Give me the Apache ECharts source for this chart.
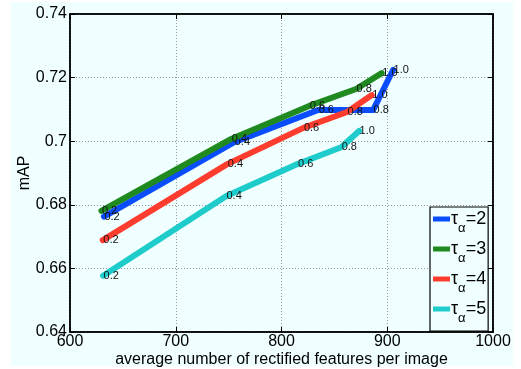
<!DOCTYPE html>
<html>
<head>
<meta charset="utf-8">
<script src="https://cdn.jsdelivr.net/npm/echarts@6/dist/echarts.min.js"></script>
<style>
  html, body { margin: 0; padding: 0; background: #ffffff; }
  #chart { width: 521px; height: 369px; }
</style>
</head>
<body>
<div id="chart"></div>
<script>
// Labels written next to each point (the alpha threshold)
const pointLabels = ['0.2', '0.4', '0.6', '0.8', '1.0'];

// tau_alpha = 2
const feat2 = [632.1, 755.3, 834.7, 886.6, 905.5];
const map2  = [0.6763, 0.6997, 0.7098, 0.7098, 0.7224];
// tau_alpha = 3
const feat3 = [629.7, 752.5, 826.2, 870.5, 894.8];
const map3  = [0.6781, 0.7007, 0.7111, 0.7164, 0.7214];
// tau_alpha = 4
const feat4 = [631.0, 748.7, 820.7, 862.0, 885.4];
const map4  = [0.6689, 0.6928, 0.7042, 0.7092, 0.7145];
// tau_alpha = 5
const feat5 = [631.3, 747.5, 815.1, 856.4, 873.4];
const map5  = [0.6577, 0.6827, 0.6928, 0.6981, 0.7032];

const tauValues = ['2', '3', '4', '5'];
const xTicks = [600, 700, 800, 900, 1000];
const yTicks = [0.64, 0.66, 0.68, 0.70, 0.72, 0.74];

const seriesColors = ['#0a4dff', '#1f8a1f', '#ff3d2e', '#1fcccc'];
const featSets = [feat2, feat3, feat4, feat5];
const mapSets = [map2, map3, map4, map5];

const FONT = 'Liberation Sans, Arial, Helvetica, sans-serif';

const series = tauValues.map((tau, i) => ({
  name: 'tau' + tau,
  type: 'line',
  data: featSets[i].map((x, k) => [x, mapSets[i][k]]),
  symbol: 'circle',
  symbolSize: 1,
  showSymbol: true,
  lineStyle: { width: 6, color: seriesColors[i], cap: 'round', join: 'round' },
  itemStyle: { color: seriesColors[i] },
  label: {
    show: true,
    position: 'right',
    distance: 0,
    formatter: p => pointLabels[p.dataIndex],
    fontFamily: FONT,
    fontSize: 11,
    color: '#111'
  },
  emphasis: { disabled: true },
  animation: false,
  z: 2 + i
}));

const chart = echarts.init(document.getElementById('chart'), null, { renderer: 'canvas' });

chart.setOption({
  animation: false,
  textStyle: { fontFamily: FONT },
  graphic: [{
    type: 'rect',
    shape: { x: 11, y: 2, width: 502, height: 364 },
    style: { fill: '#f0ffff' },
    z: -10,
    silent: true
  }],
  grid: {
    left: 70, right: 28, top: 14, bottom: 37,
    outerBoundsMode: 'none',
    containLabel: false,
    show: true,
    borderColor: '#000',
    borderWidth: 1.5,
    backgroundColor: 'transparent'
  },
  legend: {
    data: tauValues.map(t => 'tau' + t),
    orient: 'vertical',
    left: 430,
    top: 207,
    width: 61,
    padding: [3, 2, 6, 3],
    itemGap: 5,
    itemWidth: 17,
    itemHeight: 5,
    icon: 'rect',
    backgroundColor: '#f0ffff',
    borderColor: '#000',
    borderWidth: 1.2,
    borderRadius: 0,
    selectedMode: false,
    formatter: name => '{t|τ}{s|α}{t|=' + name.slice(3) + '}',
    textStyle: {
      padding: [0, 0, 0, -4],
      rich: {
        t: { fontSize: 18, lineHeight: 18, verticalAlign: 'top', color: '#000', fontFamily: FONT },
        s: { fontSize: 13, lineHeight: 13, padding: [12, 0, 0, 0], verticalAlign: 'top', color: '#000', fontFamily: FONT }
      }
    }
  },
  xAxis: [{
    type: 'value',
    min: xTicks[0], max: xTicks[xTicks.length - 1], interval: 100,
    name: 'average number of rectified features per image',
    nameLocation: 'middle',
    nameGap: 20,
    nameMoveOverlap: false,
    nameTextStyle: { fontSize: 16, color: '#000', fontFamily: FONT },
    axisLine: { show: true, onZero: false, lineStyle: { color: '#000', width: 1.5 } },
    axisTick: { show: true, inside: true, length: 5, lineStyle: { color: '#000' } },
    axisLabel: { fontSize: 16, color: '#000', margin: 2, fontFamily: FONT, formatter: v => String(v) },
    splitLine: { show: true, lineStyle: { color: '#9a9a9a', type: [1, 2], width: 1 } }
  }, {
    type: 'value', position: 'top',
    min: xTicks[0], max: xTicks[xTicks.length - 1], interval: 100,
    axisLine: { show: true, onZero: false, lineStyle: { color: '#000', width: 1.5 } },
    axisTick: { show: true, inside: true, length: 5, lineStyle: { color: '#000' } },
    axisLabel: { show: false },
    splitLine: { show: false }
  }],
  yAxis: [{
    type: 'value',
    min: yTicks[0], max: yTicks[yTicks.length - 1], interval: 0.02,
    name: 'mAP',
    nameLocation: 'middle',
    nameGap: 37,
    nameMoveOverlap: false,
    nameTextStyle: { fontSize: 16, color: '#000', fontFamily: FONT },
    axisLine: { show: true, onZero: false, lineStyle: { color: '#000', width: 1.5 } },
    axisTick: { show: true, inside: true, length: 5, lineStyle: { color: '#000' } },
    axisLabel: {
      fontSize: 16, color: '#000', margin: 3, fontFamily: FONT,
      formatter: v => String(parseFloat(v.toFixed(2)))
    },
    splitLine: { show: true, lineStyle: { color: '#9a9a9a', type: [1, 2], width: 1 } }
  }, {
    type: 'value', position: 'right',
    min: yTicks[0], max: yTicks[yTicks.length - 1], interval: 0.02,
    axisLine: { show: true, onZero: false, lineStyle: { color: '#000', width: 1.5 } },
    axisTick: { show: true, inside: true, length: 5, lineStyle: { color: '#000' } },
    axisLabel: { show: false },
    splitLine: { show: false }
  }],
  series: series
});
</script>
</body>
</html>
